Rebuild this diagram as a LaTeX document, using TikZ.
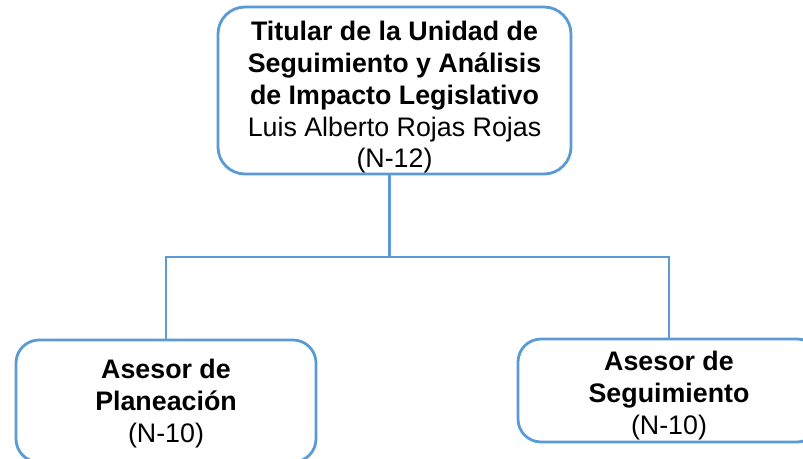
\documentclass[tikz,border=0pt]{standalone}
\usepackage{fontspec}
\setmainfont{Liberation Sans}
\usetikzlibrary{positioning}
\usetikzlibrary{calc}
\definecolor{orgblue}{HTML}{5B9BD5}

\begin{document}
\begin{tikzpicture}[x=1pt, y=-1pt,
		unit/.style = {
			draw=orgblue, line width=2.8pt, align=center, inner sep=0pt,
			font=\fontsize{26.8}{31.8}\selectfont
		},
		link/.style = {draw=orgblue, line width=2.6pt}]
		\useasboundingbox (0,0) rectangle (803,458);
		\node (titular) [unit, rounded corners=27pt, minimum width=353pt, minimum height=167pt] at (394.5,90.5)
		{\rule{0pt}{33pt}\textbf{Titular de la Unidad de}\\ \textbf{Seguimiento y Análisis}\\ \textbf{de Impacto Legislativo}\\ Luis Alberto Rojas Rojas\\ (N-12)};
		\node (planeacion) [unit, rounded corners=23pt, minimum width=300pt, minimum height=122pt] at (166,401)
		{\rule{0pt}{24pt}\textbf{Asesor de}\\ \textbf{Planeación}\\ (N-10)};
		\node (seguimiento) [unit, rounded corners=23pt, minimum width=302pt, minimum height=103pt] at (669,390.5)
		{\rule{0pt}{30pt}\textbf{Asesor de}\\ \textbf{Seguimiento}\\ (N-10)};
		\coordinate (hub) at (389.5,257);
		\draw [link] (titular.south -| hub) -- (hub);
		\draw [link] (planeacion.north) -- (planeacion.north |- hub)
		-- (seguimiento.north |- hub) -- (seguimiento.north);
	\end{tikzpicture}
\end{document}
